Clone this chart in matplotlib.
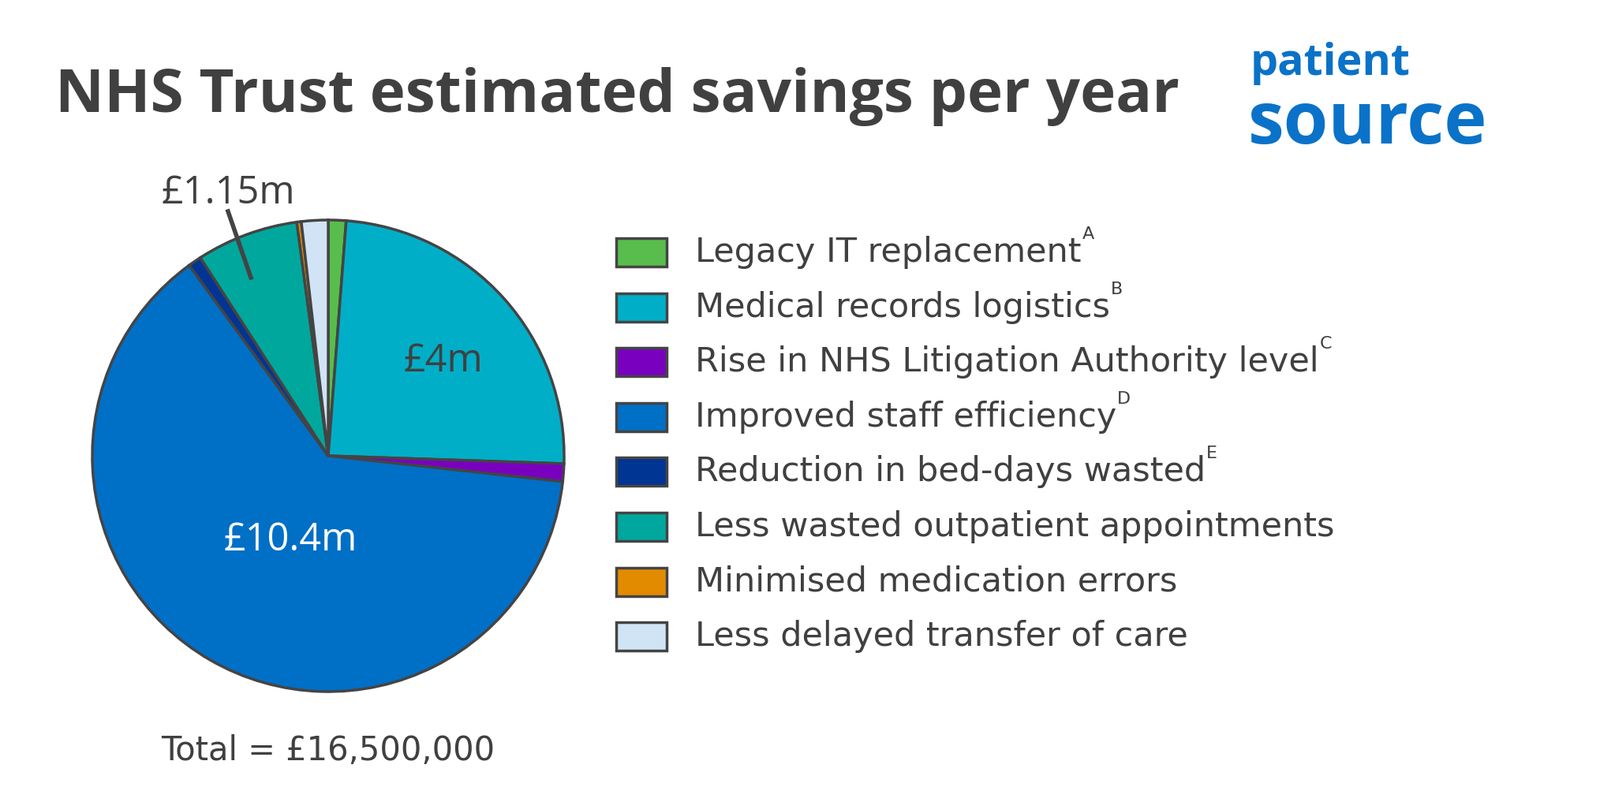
import matplotlib
matplotlib.use("Agg")
import matplotlib.pyplot as plt

categories = ["Legacy IT replacement", "Medical records logistics", "Rise in NHS Litigation Authority level",
              "Improved staff efficiency", "Reduction in bed-days wasted", "Less wasted outpatient appointments",
              "Minimised medication errors", "Less delayed transfer of care"]
sups = ["A", "B", "C", "D", "E", "", "", ""]
values = [0.2, 4.0, 0.2, 10.4, 0.15, 1.15, 0.05, 0.3]
colors = ["#58bd4c", "#00aec7", "#7a00c0", "#006fc6", "#003594", "#00a79d", "#e38b00", "#d0e4f5"]

W, H = 2028, 1017
fig = plt.figure(figsize=(W/100, H/100), dpi=100)
fig.patch.set_facecolor("white")
font = "Open Sans"
lfont = "DejaVu Sans"
dark = "#404040"

def px(x, y):
    return x / W, 1 - y / H

cx, cy, r = 416, 578, 302
ax = fig.add_axes([(cx - r) / W, 1 - (cy + r) / H, 2 * r / W, 2 * r / H])
ax.pie(values, colors=colors, startangle=90, counterclock=False,
       wedgeprops=dict(edgecolor="#444444", linewidth=2.5))
ax.set_aspect("equal")
ax.set_xlim(-1.01, 1.01); ax.set_ylim(-1.01, 1.01)
ax.axis("off")

fig.text(*px(70, 122), "NHS Trust estimated savings per year", fontsize=55, fontweight="bold",
         color=dark, family=font, va="center")
fig.text(*px(562, 458), "£4m", fontsize=35, color=dark, family=font, ha="center", va="center")
fig.text(*px(368, 685), "£10.4m", fontsize=35, color="white", family=font, ha="center", va="center")
fig.text(*px(289, 245), "£1.15m", fontsize=35, color=dark, family=font, ha="center", va="center")
fig.add_artist(plt.Line2D([289/W, 318/W], [1-268/H, 1-352/H], color="#444444", lw=4))
fig.text(*px(416, 952), "Total = £16,500,000", fontsize=30, color=dark,
         family=lfont, ha="center", va="center")

for i, (c, s, col) in enumerate(zip(categories, sups, colors)):
    y = 320 + i * 69.6
    fig.patches.append(plt.Rectangle(((781)/W, 1-(y+18)/H), 64/W, 36/H, transform=fig.transFigure,
                                     facecolor=col, edgecolor="#444444", lw=2.5))
    t = fig.text(*px(881, y), c, fontsize=31, color=dark, family=lfont, va="center")
    if s:
        fig.canvas.draw()
        bb = t.get_window_extent()
        fig.text((bb.x1 + 1) / W, (bb.y1 + 2) / H, s, fontsize=16, color=dark, family=lfont, va="center")

blue = "#0a72c8"
fig.text(*px(1585, 80), "patient", fontsize=40, fontweight="bold", color=blue, family=font, va="center")
fig.text(*px(1582, 158), "source", fontsize=66, fontweight="bold", color=blue, family=font, va="center")

fig.savefig("out.png", dpi=100, facecolor="white")
